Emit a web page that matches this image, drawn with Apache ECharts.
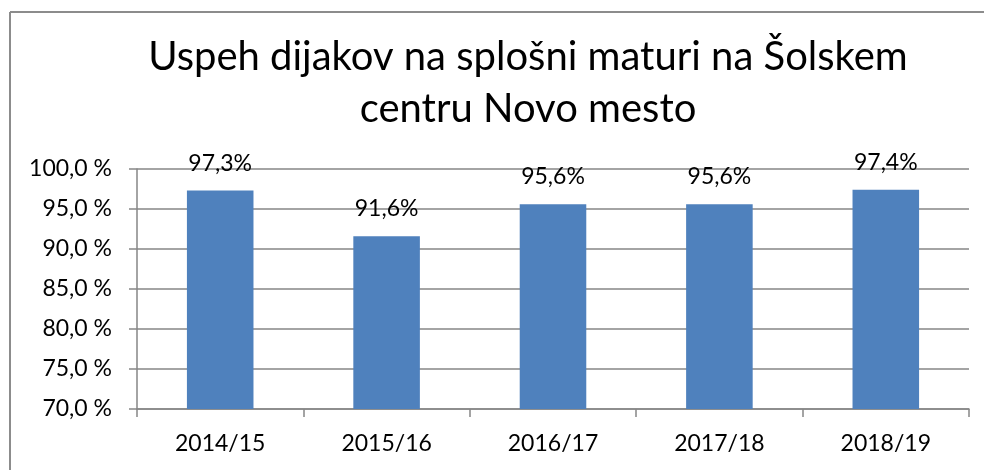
<!DOCTYPE html>
<html>
<head>
<meta charset="utf-8">
<script src="https://cdn.jsdelivr.net/npm/echarts@6/dist/echarts.min.js"></script>
<style>
  html, body { margin: 0; padding: 0; background: #fff; overflow: hidden; }
  #chart { width: 984px; height: 470px; }
</style>
</head>
<body>
<div id="chart"></div>
<script>
// šolska leta
const years = ['2014/15', '2015/16', '2016/17', '2017/18', '2018/19']
// uspeh v %
const uspeh = [97.3, 91.6, 95.6, 95.6, 97.4]
// os y
const yMin = 70
const yMax = 100
const yStep = 5

const font = 'Lato, "Open Sans", sans-serif'
const grey = '#868686'

const myChart = echarts.init(document.getElementById('chart'))
const option = {
  animation: false,
  // okvir grafa (levi in zgornji rob)
  graphic: [
    { type: 'line', shape: { x1: 10, y1: 12, x2: 10, y2: 470 }, style: { stroke: '#8c8c8c', lineWidth: 2 } },
    { type: 'line', shape: { x1: 10, y1: 12, x2: 984, y2: 12 }, style: { stroke: '#8c8c8c', lineWidth: 2 } }
  ],
  title: {
    text: 'Uspeh dijakov na splošni maturi na Šolskem\ncentru Novo mesto',
    left: 523,
    textAlign: 'center',
    top: 26,
    textStyle: {
      fontFamily: font,
      fontWeight: 'normal',
      fontSize: 40,
      lineHeight: 52,
      color: '#000'
    }
  },
  grid: {
    left: 137,
    right: 15,
    top: 169,
    bottom: 61
  },
  xAxis: {
    type: 'category',
    data: years,
    axisLine: { lineStyle: { color: grey, width: 1.5 } },
    axisTick: { show: true, length: 8, lineStyle: { color: grey, width: 1.5 } },
    axisLabel: { color: '#000', fontFamily: font, fontSize: 23, margin: 23 }
  },
  yAxis: {
    type: 'value',
    min: yMin,
    max: yMax,
    interval: yStep,
    axisLine: { show: true, lineStyle: { color: grey, width: 1.5 } },
    axisTick: { show: true, length: 8, lineStyle: { color: grey, width: 1.5 } },
    splitLine: { lineStyle: { color: grey, width: 1.5 } },
    axisLabel: {
      color: '#000',
      fontFamily: font,
      fontSize: 23,
      margin: 25,
      formatter: function (v) { return v.toFixed(1).replace('.', ',') + ' %' }
    }
  },
  series: [{
    type: 'bar',
    data: uspeh,
    barWidth: '40%',
    itemStyle: { color: '#4F81BD' },
    label: {
      show: true,
      position: 'top',
      distance: 16,
      color: '#000',
      fontFamily: font,
      fontSize: 23,
      formatter: function (p) { return p.value.toFixed(1).replace('.', ',') + '%' }
    }
  }]
}
myChart.setOption(option)
</script>
</body>
</html>
